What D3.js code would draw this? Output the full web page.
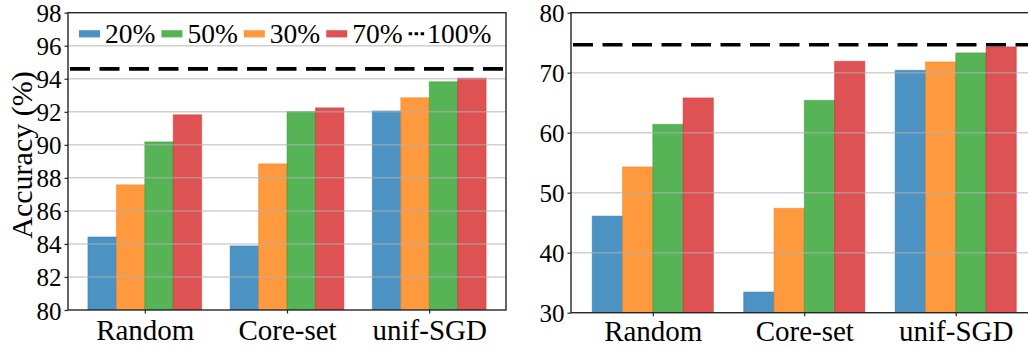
<!DOCTYPE html>
<html>
<head>
<meta charset="utf-8">
<script src="https://cdn.jsdelivr.net/npm/d3@7"></script>
</head>
<body style="margin:0">
<svg id="fig" width="1028" height="347"></svg>
<script>
// Pruning methods on the x axis
const categories = ["Random", "Core-set", "unif-SGD"];

// Data fractions, in the order bars are drawn within each group
const seriesNames = ["20%", "30%", "50%", "70%"];
const seriesColors = ["#1f77b4", "#ff7f0e", "#2ca02c", "#d62728"];

// Left panel: accuracy (%) per method
const left20 = [84.42, 83.88, 92.05];
const left30 = [87.58, 88.85, 92.85];
const left50 = [90.18, 92.02, 93.82];
const left70 = [91.82, 92.24, 94.04];
const leftFull = 94.6;
const leftTicks = [80, 82, 84, 86, 88, 90, 92, 94, 96, 98];

// Right panel: accuracy (%) per method
const right20 = [46.1, 33.45, 70.4];
const right30 = [54.3, 47.4, 71.8];
const right50 = [61.4, 65.4, 73.3];
const right70 = [65.8, 71.9, 74.3];
const rightFull = 74.67;
const rightTicks = [30, 40, 50, 60, 70, 80];

// Legend entries as listed in the legend
const legendNames = ["20%", "50%", "30%", "70%"];
const fullLabel = "100%";

const FONT = '"Liberation Serif"';
const svg = d3.select("#fig");
const spineColor = "#262626";

// apply the serif face to a text selection
function serif(sel, size) {
  sel.style("font-family", FONT, "important")
     .style("font-size", size + "px", "important")
     .attr("fill", "#000");
  return sel;
}

// Times-metric advance widths (em) for the legend label glyphs
const advance = c => (c === "%" ? 0.833 : 0.5);
const textWidth = (s, size) => Array.from(s).reduce((w, c) => w + advance(c) * size, 0);

function drawPanel(opts) {
  const { x0, x1, y0, y1, domain, ticks, series, full, tickFont, labelFont, labelPad } = opts;
  const g = svg.append("g");

  const x = d3.scaleLinear().domain([-0.54, 2.54]).range([x0, x1]);
  const y = d3.scaleLinear().domain(domain).range([y1, y0]);
  const barW = 0.2;

  // clip to plot area
  const clipId = "clip" + Math.round(x0);
  svg.append("clipPath").attr("id", clipId)
    .append("rect").attr("x", x0).attr("y", y0).attr("width", x1 - x0).attr("height", y1 - y0);

  const plot = g.append("g").attr("clip-path", `url(#${clipId})`);

  // bars
  series.forEach((vals, j) => {
    const off = (j - 1.5) * barW;
    plot.selectAll(null)
      .data(vals.map((v, i) => ({ v, i })))
      .enter().append("rect")
      .attr("x", d => x(d.i + off - barW / 2))
      .attr("width", d => x(d.i + off + barW / 2) - x(d.i + off - barW / 2))
      .attr("y", d => y(d.v))
      .attr("height", d => y(domain[0]) - y(d.v))
      .attr("fill", seriesColors[j])
      .attr("fill-opacity", 0.8)
      .attr("stroke", seriesColors[j])
      .attr("stroke-opacity", 0.45)
      .attr("stroke-width", 1);
  });

  // horizontal grid, drawn over bars
  plot.selectAll(null)
    .data(ticks.filter(t => t > domain[0] && t < domain[1]))
    .enter().append("line")
    .attr("x1", x0).attr("x2", x1)
    .attr("y1", d => y(d)).attr("y2", d => y(d))
    .attr("stroke", "#b0b0b0")
    .attr("stroke-opacity", 0.6)
    .attr("stroke-width", 1.5);

  // full-data reference line
  plot.append("line")
    .attr("x1", x0 + 2).attr("x2", x1)
    .attr("y1", y(full)).attr("y2", y(full))
    .attr("stroke", "#000")
    .attr("stroke-width", 3.6)
    .attr("stroke-dasharray", "20,9.5");

  // y axis
  const yAxis = g.append("g")
    .attr("transform", `translate(${x0},0)`)
    .call(d3.axisLeft(y).tickValues(ticks).tickSize(3.5).tickPadding(3).tickFormat(d3.format("d")));
  yAxis.attr("font-family", null).attr("font-size", null);
  yAxis.select(".domain").remove();
  yAxis.selectAll(".tick line").attr("stroke", spineColor).attr("stroke-width", 1.2);
  serif(yAxis.selectAll(".tick text"), tickFont).attr("dy", "0.36em");

  // x axis
  const xAxis = g.append("g")
    .attr("transform", `translate(0,${y1})`)
    .call(d3.axisBottom(x).tickValues([0, 1, 2]).tickSize(3.5).tickPadding(labelPad)
      .tickFormat(i => categories[i]));
  xAxis.attr("font-family", null).attr("font-size", null);
  xAxis.select(".domain").remove();
  xAxis.selectAll(".tick line").attr("stroke", spineColor).attr("stroke-width", 1.2);
  serif(xAxis.selectAll(".tick text"), labelFont).attr("dy", "0.71em");

  // spines
  g.append("rect")
    .attr("x", x0).attr("y", y0)
    .attr("width", x1 - x0).attr("height", y1 - y0)
    .attr("fill", "none")
    .attr("stroke", spineColor)
    .attr("stroke-width", 1.4);
}

drawPanel({
  x0: 68, x1: 506, y0: 12.7, y1: 310,
  domain: [80, 98], ticks: leftTicks,
  series: [left20, left30, left50, left70], full: leftFull,
  tickFont: 25, labelFont: 29, labelPad: 6
});

drawPanel({
  x0: 571, x1: 1037.5, y0: 12.7, y1: 312.7,
  domain: [30, 80], ticks: rightTicks,
  series: [right20, right30, right50, right70], full: rightFull,
  tickFont: 25, labelFont: 29, labelPad: 4
});

// y-axis title
serif(svg.append("text"), 30)
  .attr("transform", "translate(32,155) rotate(-90)")
  .attr("text-anchor", "middle")
  .text("Accuracy (%)");

// legend, single row in the left panel
const legend = svg.append("g");
const legendSize = 27.5;
let lx = 79;
const patchY = 30.2, patchW = 21, patchH = 7.2, textBase = 42.6;
legendNames.forEach(name => {
  const j = seriesNames.indexOf(name);
  legend.append("rect")
    .attr("x", lx).attr("y", patchY)
    .attr("width", patchW).attr("height", patchH)
    .attr("fill", seriesColors[j]).attr("fill-opacity", 0.8);
  serif(legend.append("text"), legendSize)
    .attr("x", lx + patchW + 5).attr("y", textBase)
    .text(name);
  lx += patchW + 5 + textWidth(name, legendSize) + 6;
});
legend.append("line")
  .attr("x1", lx).attr("x2", lx + 15.5)
  .attr("y1", patchY + patchH / 2).attr("y2", patchY + patchH / 2)
  .attr("stroke", "#000").attr("stroke-width", 3)
  .attr("stroke-dasharray", "3.5,2.5");
serif(legend.append("text"), legendSize)
  .attr("x", lx + 18.5).attr("y", textBase)
  .text(fullLabel);
</script>
</body>
</html>
